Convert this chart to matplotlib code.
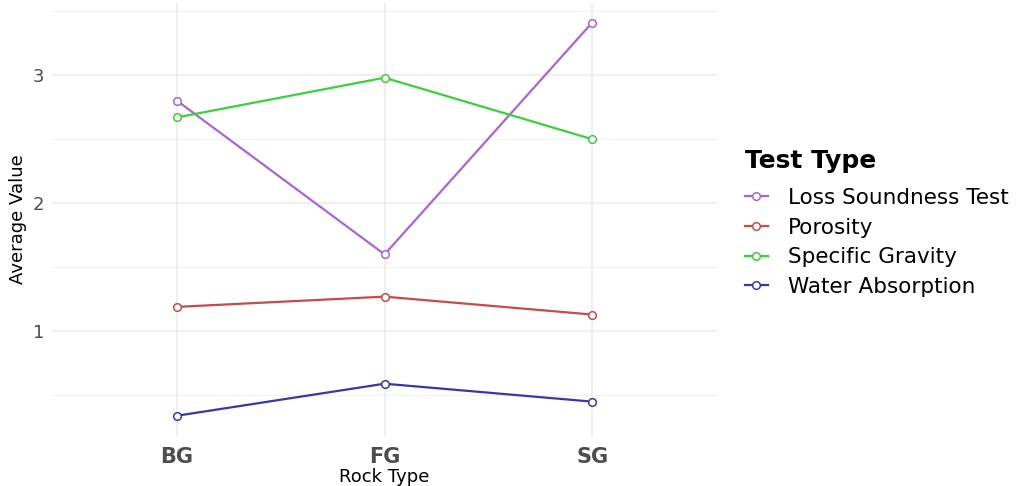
import numpy                as np
import matplotlib
matplotlib.use('Agg')
import matplotlib.pyplot    as plt
from matplotlib.ticker      import MultipleLocator


rock_types      = ['BG', 'FG', 'SG']
test_types      = ['Loss Soundness Test', 'Porosity', 'Specific Gravity', 'Water Absorption']

loss_soundness  = [2.80, 1.60, 3.41]
porosity        = [1.19, 1.27, 1.13]
specific_grav   = [2.67, 2.98, 2.50]
water_absorp    = [0.34, 0.59, 0.45]

series          = [loss_soundness, porosity, specific_grav, water_absorp]
colors          = ['#a865d6', '#c84a4a', '#3ccf3c', '#3a36a8']


def plot_chart():

    plt.rcParams['font.family']     = ['DejaVu Sans']

    fig                             = plt.figure(figsize=(10.25, 4.86), dpi=100)
    ax                              = fig.add_axes([0.0512, 0.103, 0.648, 0.891])

    x                               = np.arange(1, len(rock_types) + 1)

    for vals, name, col in zip(series, test_types, colors):
        ax.plot(x, vals, color=col, linewidth=1.6, marker='o', markersize=5.5,
                markerfacecolor='white', markeredgecolor=col, markeredgewidth=1.1,
                label=name, zorder=3)

    ax.set_xlim(0.4, 3.6)
    ax.set_ylim(0.182, 3.564)
    ax.set_xticks(x)
    ax.set_xticklabels(rock_types, fontsize=15, fontweight='bold', color='#4d4d4d')
    ax.yaxis.set_major_locator(MultipleLocator(1))
    ax.yaxis.set_minor_locator(MultipleLocator(0.5))
    ax.tick_params(axis='y', which='major', labelsize=13, colors='#4d4d4d', length=0, pad=6)
    ax.tick_params(axis='y', which='minor', length=0)
    ax.tick_params(axis='x', length=0, pad=8)

    ax.grid(which='major', color='#ebebeb', linewidth=1.1)
    ax.grid(which='minor', axis='y', color='#f1f1f1', linewidth=0.9)
    ax.set_axisbelow(True)
    for s in ax.spines.values():
        s.set_visible(False)

    ax.set_xlabel('Rock Type', fontsize=13, labelpad=1)
    ax.set_ylabel('Average Value', fontsize=13, labelpad=4)

    leg                             = ax.legend(title='Test Type', loc='upper left',
                                                bbox_to_anchor=(0.718, 0.712),
                                                bbox_transform=fig.transFigure,
                                                frameon=False, fontsize=15.5,
                                                title_fontproperties={'size': 18, 'weight': 'bold'},
                                                handlelength=1.1, handletextpad=0.9,
                                                labelspacing=0.45, borderaxespad=0)
    leg._legend_box.align           = 'left'
    leg._legend_box.sep             = 11

    fig.savefig('out.png', dpi=100, facecolor='white')



if __name__ == "__main__":

    plot_chart()
